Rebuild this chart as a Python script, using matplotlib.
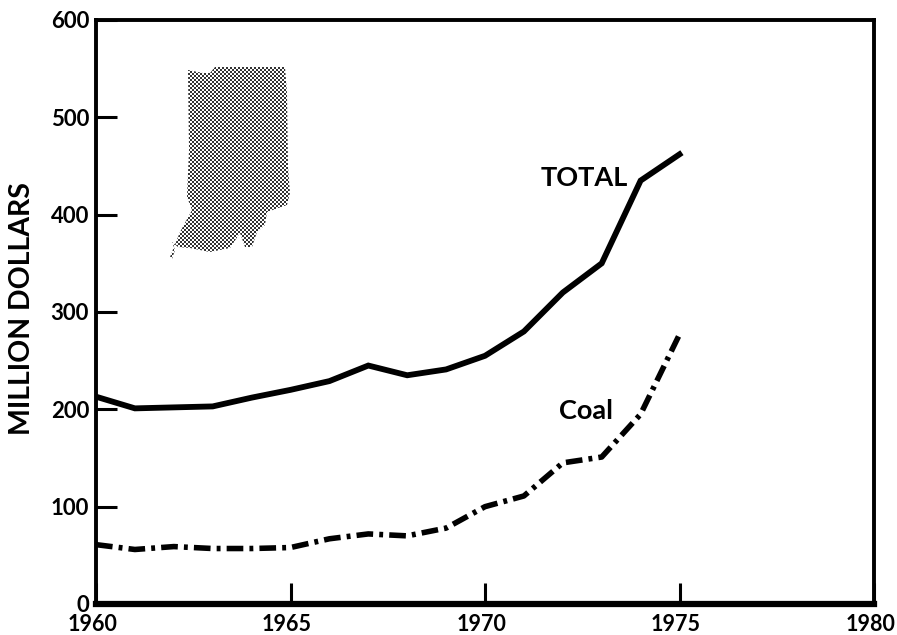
import matplotlib
matplotlib.use("Agg")
import matplotlib.pyplot as plt
import numpy as np
from matplotlib.patches import Polygon

years = [1960, 1961, 1962, 1963, 1964, 1965, 1966, 1967, 1968, 1969, 1970, 1971, 1972, 1973, 1974, 1975]
total = [213, 201, 202, 203, 212, 220, 229, 245, 235, 241, 255, 280, 320, 350, 435, 462]
coal = [61, 56, 59, 57, 57, 58, 67, 72, 70, 78, 100, 111, 145, 151, 195, 277]
x_ticks = [1960, 1965, 1970, 1975, 1980]
y_ticks = [0, 100, 200, 300, 400, 500, 600]

W, H = 897, 635
plt.rcParams['font.family'] = ['Lato', 'DejaVu Sans']
plt.rcParams['font.weight'] = 'bold'

fig = plt.figure(figsize=(W / 100, H / 100), dpi=100)
ax = fig.add_axes([96 / W, 1 - 604 / H, (874 - 96) / W, (604 - 20) / H])

ax.plot(years, total, color='black', lw=4.2, solid_joinstyle='miter')
ax.plot(years, coal, color='black', lw=4, dashes=(3, 1.1, 0.7, 1.1))

ax.set_xlim(1960, 1980)
ax.set_ylim(0, 600)
ax.set_xticks(x_ticks)
ax.set_yticks(y_ticks)
ax.tick_params(direction='in', length=15, width=2.2, labelsize=16, labelbottom=False)
ax.tick_params(axis='y', pad=5)
for s in ax.spines.values():
    s.set_linewidth(2.8)
ax.spines['bottom'].set_linewidth(4.5)

for yr in x_ticks:
    ax.annotate(str(yr), (yr, 0), xytext=(-2.5, -14.5), textcoords='offset points',
                ha='center', va='center', fontsize=15.5)

fig.text(22 / W, 1 - 309 / H, 'MILLION DOLLARS', rotation=90, ha='center', va='center', fontsize=20.5)
ax.text(1972.55, 438, 'TOTAL', ha='center', va='center', fontsize=19.5)
ax.text(1972.6, 198, 'Coal', ha='center', va='center', fontsize=19.5)

# indiana outline, pixels of the page, filled with a fine checker screen
outline = [(188, 70), (203, 73), (210, 73), (215, 67), (285, 67), (287, 93), (288, 167),
           (290, 193), (287, 205), (267, 212), (265, 225), (257, 232), (252, 247), (245, 247),
           (240, 233), (230, 248), (210, 252), (190, 248), (178, 247), (172, 242), (175, 250),
           (172, 259), (170, 257), (180, 232), (192, 210), (187, 197), (189, 150)]
yy, xx = np.mgrid[0:H // 2, 0:W // 2]
screen = (xx + yy) % 2
im = fig.figimage(np.kron(screen, np.ones((2, 2))), cmap='gray', vmin=-0.25, vmax=1, origin='upper', zorder=3)
im.set_clip_path(Polygon([(px, H - py) for px, py in outline], closed=True, transform=None))

fig.savefig('out.png', dpi=100)
